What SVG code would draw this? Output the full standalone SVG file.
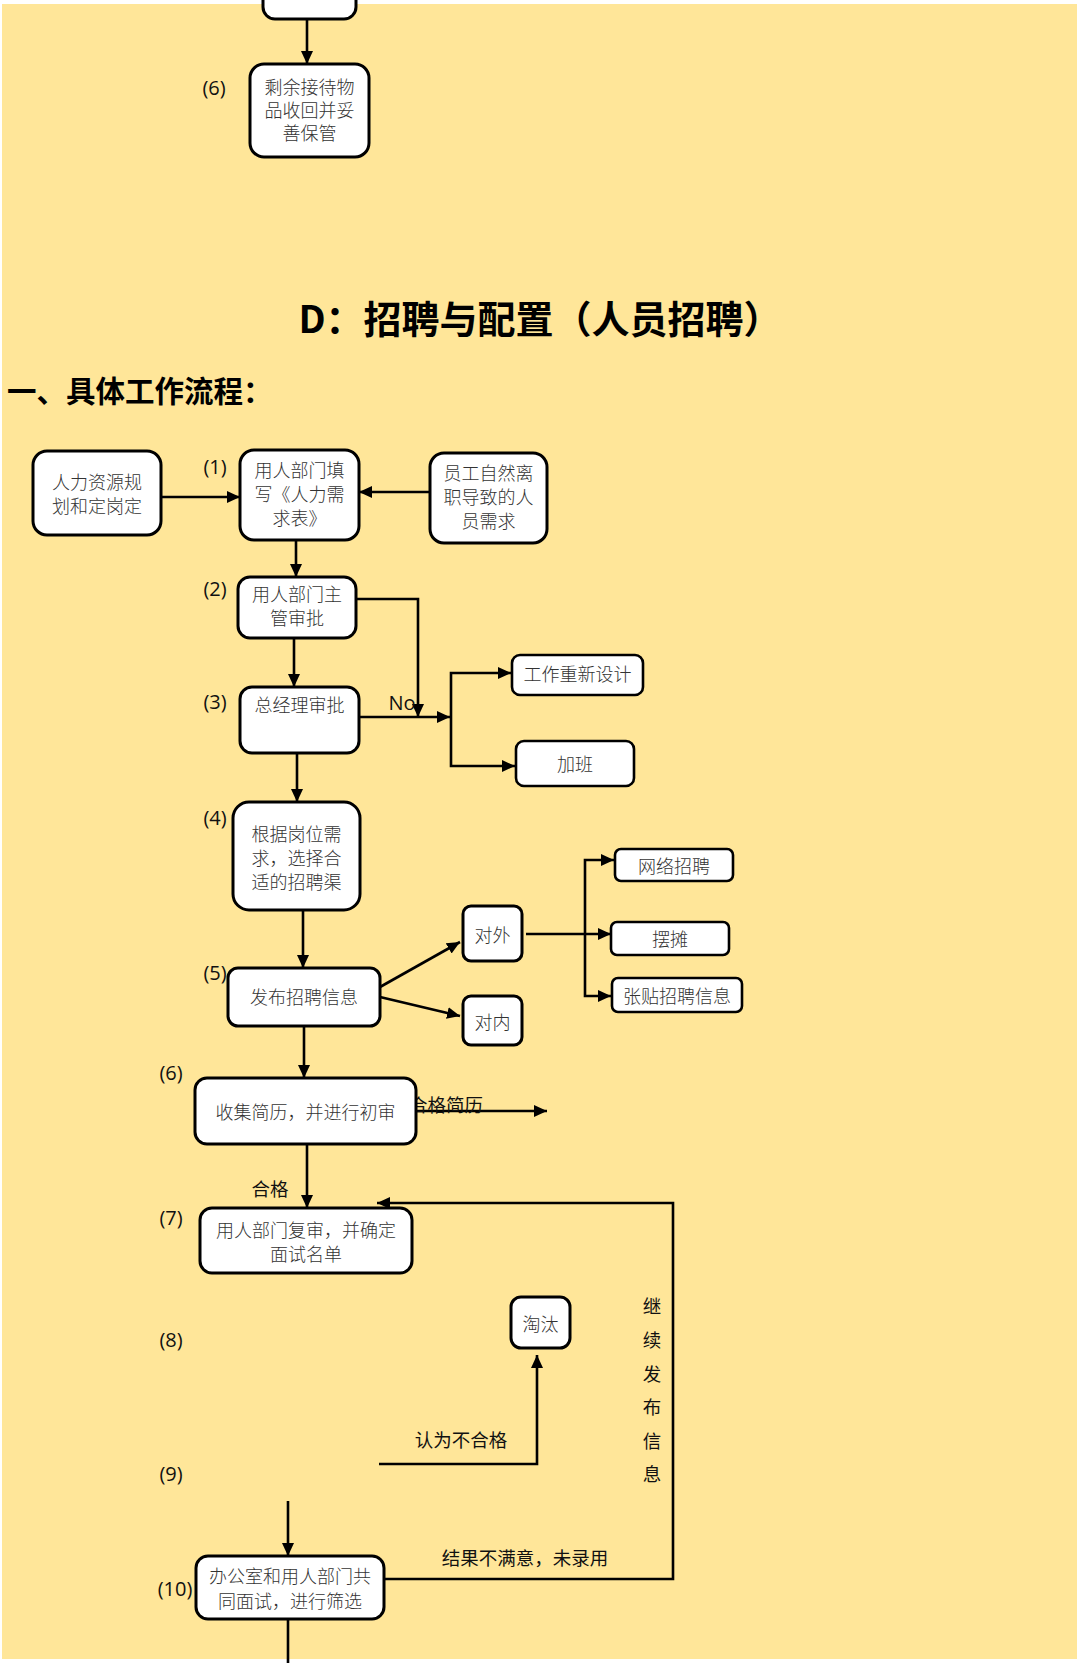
<svg xmlns="http://www.w3.org/2000/svg" width="1080" height="1663" viewBox="0 0 1080 1663">
<defs>
<marker id="ah" markerUnits="userSpaceOnUse" markerWidth="14" markerHeight="14" refX="13" refY="7" orient="auto">
<path d="M0,1 L13,7 L0,13 z" fill="#000"/>
</marker>
<style>
.bg{fill:#FFE699}
.n rect{fill:#fff;stroke:#000;stroke-width:3}
.s rect{fill:#fff;stroke:#000;stroke-width:2.6}
.n text,.s text{font-family:"Noto Sans CJK SC","Noto Sans",sans-serif;font-weight:300;font-size:18px;fill:#333;text-anchor:middle;dominant-baseline:central}
.c path,.c line{fill:none;stroke:#000;stroke-width:2.6}
.a{marker-end:url(#ah)}
.lb{font-family:"Noto Sans CJK SC","Noto Sans",sans-serif;font-size:18.5px;fill:#111;dominant-baseline:central}
.num{font-family:"Open Sans","Noto Sans",sans-serif;font-size:20px;fill:#111;text-anchor:middle;dominant-baseline:central}
.t1{font-family:"Noto Sans CJK SC",sans-serif;font-weight:bold;font-size:38px;fill:#000;text-anchor:middle;dominant-baseline:central}
.t2{font-family:"Noto Sans CJK SC",sans-serif;font-weight:bold;font-size:29.5px;fill:#000;dominant-baseline:central}
</style>
</defs>
<rect x="0" y="0" width="1080" height="1663" fill="#fff"/>
<rect class="bg" x="2" y="4" width="1075" height="1655"/>

<text class="t1" x="540" y="316">D：招聘与配置（人员招聘）</text>
<text class="t2" x="7" y="389">一、具体工作流程：</text>

<g id="connectors" class="c">
<line class="a" x1="307" y1="19" x2="307" y2="64"/>
<line class="a" x1="161" y1="497" x2="240" y2="497"/>
<line class="a" x1="430" y1="492" x2="359" y2="492"/>
<line class="a" x1="296" y1="540" x2="296" y2="577"/>
<path class="a" d="M356,599 H418 V717"/>
<line class="a" x1="294" y1="638" x2="294" y2="687"/>
<line class="a" x1="359" y1="717" x2="450" y2="717"/>
<path class="a" d="M451,717 V673 H511"/>
<path class="a" d="M451,717 V766 H515"/>
<line class="a" x1="297" y1="753" x2="297" y2="802"/>
<line class="a" x1="303" y1="910" x2="303" y2="968"/>
<line class="a" x1="380" y1="987" x2="460" y2="942"/>
<line class="a" x1="380" y1="997" x2="460" y2="1016"/>
<line class="a" x1="526" y1="934" x2="611" y2="934"/>
<path class="a" d="M585,934 V860 H614"/>
<path class="a" d="M585,934 V996 H611"/>
<line class="a" x1="304" y1="1026" x2="304" y2="1078"/>
<line class="a" x1="416" y1="1111" x2="547" y2="1111"/>
<line class="a" x1="307" y1="1144" x2="307" y2="1208"/>
<path class="a" d="M384,1579 H673 V1203 H377"/>
<path class="a" d="M379,1464 H537 V1355"/>
<line class="a" x1="288" y1="1501" x2="288" y2="1556"/>
<line x1="288" y1="1619" x2="288" y2="1663"/>
</g>

<g id="labels">
<text class="num" x="214" y="87">(6)</text>
<text class="num" x="215" y="466">(1)</text>
<text class="num" x="215" y="588">(2)</text>
<text class="num" x="215" y="701">(3)</text>
<text class="num" x="215" y="817">(4)</text>
<text class="num" x="215" y="972">(5)</text>
<text class="num" x="171" y="1072">(6)</text>
<text class="num" x="171" y="1217">(7)</text>
<text class="num" x="171" y="1339">(8)</text>
<text class="num" x="171" y="1473">(9)</text>
<text class="num" x="175" y="1588">(10)</text>
<text class="num" x="402" y="702">No</text>
<text class="lb" x="409" y="1104">合格简历</text>
<text class="lb" x="270" y="1188" text-anchor="middle">合格</text>
<text class="lb" x="461" y="1439" text-anchor="middle">认为不合格</text>
<text class="lb" x="525" y="1557" text-anchor="middle">结果不满意，未录用</text>
<g class="lb" text-anchor="middle">
<text x="652" y="1305">继</text>
<text x="652" y="1339">续</text>
<text x="652" y="1373">发</text>
<text x="652" y="1406">布</text>
<text x="652" y="1440">信</text>
<text x="652" y="1473">息</text>
</g>
</g>

<g id="node-prev" class="n"><rect x="263" y="-40" width="93" height="59" rx="12"/></g>
<g id="node-keep" class="n"><rect x="250" y="64" width="119" height="93" rx="14"/>
<text x="309.5" y="86" font-size="17.5">剩余接待物</text><text x="309.5" y="109" font-size="17.5">品收回并妥</text><text x="309.5" y="132" font-size="17.5">善保管</text></g>

<g id="node-plan" class="n"><rect x="33" y="451" width="128" height="84" rx="14"/>
<text x="97" y="481">人力资源规</text><text x="97" y="505">划和定岗定</text></g>
<g id="node-1" class="n"><rect x="240" y="450" width="119" height="90" rx="14"/>
<text x="299.5" y="469">用人部门填</text><text x="299.5" y="493">写《人力需</text><text x="299.5" y="517">求表》</text></g>
<g id="node-leave" class="n"><rect x="430" y="453" width="117" height="90" rx="14"/>
<text x="488.5" y="472">员工自然离</text><text x="488.5" y="496">职导致的人</text><text x="488.5" y="520">员需求</text></g>
<g id="node-2" class="n"><rect x="238" y="577" width="118" height="61" rx="12"/>
<text x="297" y="593">用人部门主</text><text x="297" y="617">管审批</text></g>
<g id="node-3" class="n"><rect x="240" y="687" width="119" height="66" rx="12"/>
<text x="299.5" y="704">总经理审批</text></g>
<g id="node-redesign" class="s"><rect x="512" y="655" width="131" height="40" rx="8"/>
<text x="577.5" y="673">工作重新设计</text></g>
<g id="node-overtime" class="s"><rect x="516" y="741" width="118" height="45" rx="8"/>
<text x="575" y="763">加班</text></g>
<g id="node-4" class="n"><rect x="233" y="802" width="127" height="108" rx="16"/>
<text x="296.5" y="833">根据岗位需</text><text x="296.5" y="857">求，选择合</text><text x="296.5" y="881">适的招聘渠</text></g>
<g id="node-5" class="n"><rect x="228" y="968" width="152" height="58" rx="10"/>
<text x="304" y="996">发布招聘信息</text></g>
<g id="node-ext" class="n"><rect x="463" y="906" width="59" height="55" rx="8"/>
<text x="492.5" y="934">对外</text></g>
<g id="node-int" class="n"><rect x="463" y="996" width="59" height="49" rx="8"/>
<text x="492.5" y="1021">对内</text></g>
<g id="node-web" class="s"><rect x="615" y="849" width="118" height="32" rx="6"/>
<text x="674" y="865">网络招聘</text></g>
<g id="node-stall" class="s"><rect x="611" y="922" width="118" height="33" rx="6"/>
<text x="670" y="938">摆摊</text></g>
<g id="node-post" class="s"><rect x="612" y="978" width="130" height="34" rx="6"/>
<text x="677" y="995">张贴招聘信息</text></g>
<g id="node-6" class="n"><rect x="195" y="1078" width="221" height="66" rx="12"/>
<text x="305.5" y="1111">收集简历，并进行初审</text></g>
<g id="node-7" class="n"><rect x="200" y="1208" width="212" height="65" rx="12"/>
<text x="306" y="1229">用人部门复审，并确定</text><text x="306" y="1253">面试名单</text></g>
<g id="node-elim" class="n"><rect x="511" y="1297" width="59" height="51" rx="10"/>
<text x="540.5" y="1323">淘汰</text></g>
<g id="node-10" class="n"><rect x="196" y="1556" width="188" height="63" rx="12"/>
<text x="290" y="1575">办公室和用人部门共</text><text x="290" y="1600">同面试，进行筛选</text></g>
</svg>
